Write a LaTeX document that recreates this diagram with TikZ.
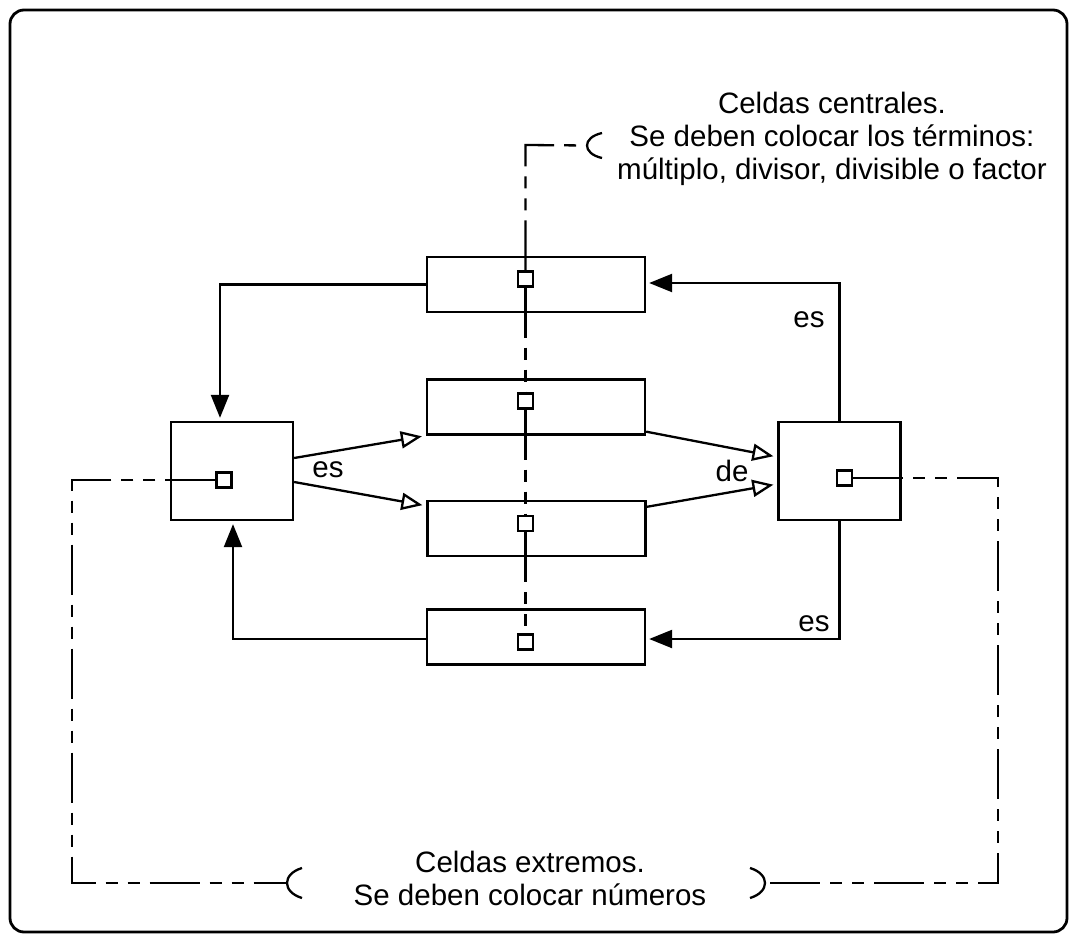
\documentclass[tikz,border=0pt]{standalone}
\usepackage{fontspec}
\setmainfont{Liberation Sans}
\usetikzlibrary{arrows.meta,calc}
\begin{document}
\begin{tikzpicture}[x=1pt,y=-1pt,line width=2.3pt,
  every node/.style={inner sep=0pt},
  cell/.style={draw,minimum width=218pt,minimum height=55pt},
  endcell/.style={draw,minimum width=122pt,minimum height=98pt},
  slot/.style={draw,fill=white,minimum size=15pt},
  wordtag/.style={font=\fontsize{29.5}{33}\selectfont},
  annot/.style={font=\fontsize{29.5}{33}\selectfont,align=center},
  link/.style={-{Triangle[length=23pt,width=18pt]},shorten >=3pt},
  flow/.style={-{Triangle[open,length=21pt,width=17pt]},shorten >=4pt},
  guide/.style={dash pattern=on 50pt off 10pt on 12pt off 10pt on 12pt off 10pt},
]
\useasboundingbox (0,0) rectangle (1077,942);
% outer frame
\draw[line width=2.8pt,rounded corners=14pt] (10,10) rectangle (1067,932);

% central cells and end cells
\node[cell] (c1) at (536,284.5) {};
\node[cell] (c2) at (536,407) {};
\node[cell] (c3) at (536.5,528.5) {};
\node[cell] (c4) at (536,637) {};
\node[endcell] (L) at (232,471) {};
\node[endcell] (R) at (839.5,471) {};

% small slots inside the cells
\node[slot] (s1) at (525.5,279) {};
\node[slot] (s2) at (525.5,401) {};
\node[slot] (s3) at (525.5,523.5) {};
\node[slot] (s4) at (525.5,642) {};
\node[slot] (Ls) at (224,480) {};
\node[slot] (Rs) at (844.5,478) {};

% bends of the guide lines
\coordinate (tc) at (525.5,145);
\coordinate (tb) at (587,145.5);
\coordinate (lc1) at (72,480);
\coordinate (lc2) at (72,883);
\coordinate (lb) at (287,883);
\coordinate (rc1) at (998,478);
\coordinate (rc2) at (998,883);
\coordinate (rb) at (765,883);

% guide lines from the slots to the notes
\draw[guide] (s1.north) -- (tc) -- (tb);
\draw[guide] (s1.south) -- (s2.north);
\draw[guide] (s2.south) -- (s3.north);
\draw[guide] (s3.south) -- (s4.north);
\draw[guide] (Ls.west) -- (lc1) -- (lc2) -- (lb);
\draw[guide] (Rs.east) -- (rc1) -- (rc2) -- (rb);

% brackets at the ends of the guide lines
\draw ($(tb)+(15,-12.5)$) .. controls ($(tb)+(-5,-8)$) and ($(tb)+(-5,8)$) .. ($(tb)+(15,12.5)$);
\draw ($(lb)+(15,-15)$) .. controls ($(lb)+(-5,-9)$) and ($(lb)+(-5,9)$) .. ($(lb)+(15,15)$);
\draw ($(rb)+(-15,-15)$) .. controls ($(rb)+(5,-9)$) and ($(rb)+(5,9)$) .. ($(rb)+(-15,15)$);

% relations between the cells
\draw[link] (c1.west) -| ([xshift=-12pt]L.north);
\draw[link] ([yshift=-2pt]c4.west) -| ([xshift=1pt]L.south);
\draw[link] (R.north) |- ([yshift=1.5pt]c1.east);
\draw[link] (R.south) |- ([yshift=-2pt]c4.east);
\draw[flow] ([yshift=13pt]L.east) -- (c2.south west);
\draw[flow] ([yshift=-11pt]L.east) -- ([yshift=-6pt]c3.north west);
\draw[flow] ([yshift=4pt]c2.south east) -- ([yshift=14pt]R.west);
\draw[flow] ([yshift=-7pt]c3.north east) -- ([yshift=-13pt]R.west);

% words on the relations
\node[wordtag] (t1) at (328,470) {es};
\node[wordtag] (t2) at (732,471) {de};
\node[wordtag] (t3) at (809,320) {es};
\node[wordtag] (t4) at (814,624) {es};

% notes
\node[annot,anchor=north] (topnote) at (832,90.5) {Celdas centrales.\\Se deben colocar los términos:\\múltiplo, divisor, divisible o factor};
\node[annot,anchor=north] (botnote) at (530,849.5) {Celdas extremos.\\Se deben colocar números};
\end{tikzpicture}
\end{document}
